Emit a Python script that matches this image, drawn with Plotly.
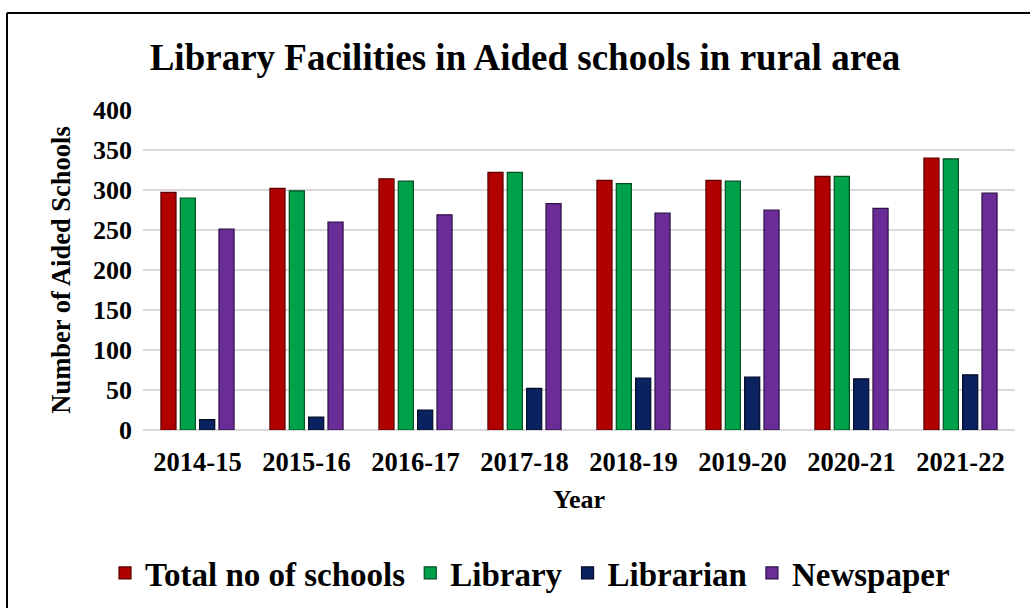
import plotly.graph_objects as go

years = ["2014-15", "2015-16", "2016-17", "2017-18", "2018-19", "2019-20", "2020-21", "2021-22"]
total_schools = [297, 302, 314, 322, 312, 312, 317, 340]
library = [290, 299, 311, 322, 308, 311, 317, 339]
librarian = [13, 16, 25, 52, 65, 66, 64, 69]
newspaper = [251, 260, 269, 283, 271, 275, 277, 296]

series = [
    ("Total no of schools", total_schools, "#B10000", "#5A0000"),
    ("Library", library, "#00A14B", "#00501F"),
    ("Librarian", librarian, "#0B2260", "#020B26"),
    ("Newspaper", newspaper, "#6A2D98", "#2E1045"),
]

W, H = 1030, 608
ML, MR, MT, MB = 143, 15, 110, 178
PW, PH = W - ML - MR, H - MT - MB

def px_x(x):
    return (x - ML) / PW

def px_y(y):
    return (H - MB - y) / PH

font_family = "Liberation Serif, Times New Roman, serif"

fig = go.Figure()
for name, vals, col, edge in series:
    fig.add_trace(go.Bar(
        name="<b>" + name + "</b>", x=years, y=vals,
        marker=dict(color=col, line=dict(color=edge, width=1.2)),
    ))

fig.update_layout(
    width=W, height=H,
    margin=dict(l=ML, r=MR, t=MT, b=MB, autoexpand=False),
    paper_bgcolor="white", plot_bgcolor="white",
    barmode="group", bargap=0.29, bargroupgap=0.22,
    font=dict(family=font_family, color="black"),
    title=dict(
        text="<b>Library Facilities in Aided schools in rural area</b>",
        x=525 / W, xref="container", xanchor="center",
        y=1 - 57 / H, yref="container", yanchor="middle",
        font=dict(size=37, family=font_family, color="black"),
    ),
    xaxis=dict(
        tickfont=dict(size=26.5, family=font_family, color="black"),
        tickprefix="<b>", ticksuffix="</b>", tickangle=0,
        title=dict(text="<b>Year</b>", font=dict(size=26), standoff=14),
        showline=False, ticks="", ticklabelstandoff=13,
    ),
    yaxis=dict(
        range=[0, 400], dtick=50,
        tickfont=dict(size=26, family=font_family, color="black"),
        tickprefix="<b>", ticksuffix="</b>",
        title=dict(text="<b>Number of Aided Schools</b>", font=dict(size=26.5), standoff=14),
        showgrid=True, gridcolor="#D9D9D9", gridwidth=1.5,
        zeroline=True, zerolinecolor="#D9D9D9", zerolinewidth=1.5,
        showline=False, ticks="", ticklabelstandoff=10,
    ),
    legend=dict(
        orientation="h", x=px_x(530), xanchor="center",
        y=px_y(573), yanchor="middle",
        font=dict(size=33, family=font_family, color="black"),
        itemwidth=30, traceorder="normal",
    ),
    showlegend=True,
)

# frame lines along the top and left of the figure
fig.add_shape(type="line", xref="paper", yref="paper",
              x0=px_x(7), x1=px_x(W + 5), y0=px_y(13), y1=px_y(13),
              line=dict(color="black", width=2))
fig.add_shape(type="line", xref="paper", yref="paper",
              x0=px_x(7), x1=px_x(7), y0=px_y(13), y1=px_y(H + 5),
              line=dict(color="black", width=2))

fig.write_html("out.html")
